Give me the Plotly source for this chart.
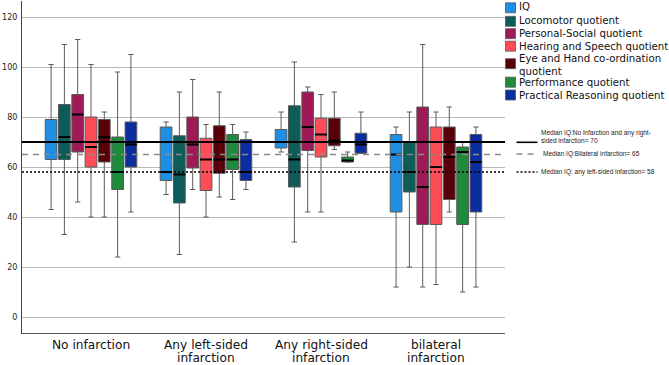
import plotly.graph_objects as go

# ---------------- data ----------------
categories = ["No infarction", "Any left-sided infarction",
              "Any right-sided infarction", "bilateral infarction"]
category_lines = [["No infarction"], ["Any left-sided", "infarction"],
                  ["Any right-sided", "infarction"], ["bilateral", "infarction"]]

series_names = ["IQ", "Locomotor quotient", "Personal-Social quotient",
                "Hearing and Speech quotient", "Eye and Hand co-ordination quotient",
                "Performance quotient", "Practical Reasoning quotient"]
legend_labels = ["IQ", "Locomotor quotient", "Personal-Social quotient",
                 "Hearing and Speech quotient", "Eye and Hand co-ordination<br>quotient",
                 "Performance quotient", "Practical Reasoning quotient"]
colors = ["#1f8fe6", "#0d5c59", "#9e1a57", "#ff4d57", "#570009", "#1d8a3c", "#0a2ea0"]

# per series, per category (No, left, right, bilateral)
lower_whisker = [[43, 49, 66, 12], [33, 25, 30, 20], [46, 51, 42, 12], [40, 40, 42, 13],
                 [40, 48, 67, 42], [24, 47, 62, 10], [42, 51, 65.5, 12]]
q1_values = [[63, 54.6, 67.6, 42], [63, 45.6, 52, 50], [66, 59.6, 66.6, 37], [60, 50.6, 64, 37],
             [62, 57.5, 68.5, 47], [51, 59, 62, 37], [60, 54.6, 65.5, 42]]
medians = [[70, 58, 70, 65], [72, 57, 63, 58], [81, 69, 76, 52], [68, 63, 73, 60],
           [72, 63, 70.5, 64], [58, 63, 62.6, 66], [69, 58, 69, 62]]
q3_values = [[79, 76, 75, 73], [85, 72.5, 84.5, 70], [89, 80, 90, 84], [80, 71.5, 79.5, 76],
             [79, 76.5, 79.5, 76], [72, 73, 64, 68], [78, 71, 73.5, 73]]
upper_whisker = [[101, 78, 82, 76], [109, 90, 102, 82], [111, 95, 92, 109], [101, 77, 89, 82],
                 [82, 90, 90, 84], [98, 77, 66, 70], [105, 74, 82, 76]]

ref_values = [70, 65, 58]
ref_labels = ["Median IQ:No infarction and any right-<br>sided infarction= 70",
              "Median IQ:Bilateral infarction= 65",
              "Median IQ: any left-sided infarction= 58"]
ref_styles = [dict(color="#000000", width=2, dash="solid"),
              dict(color="#8a8a8a", width=1.6, dash="6px,5px"),
              dict(color="#000000", width=1.3, dash="2px,2px")]

y_ticks = [0, 20, 40, 60, 80, 100, 120]

# ---------------- layout geometry (pixels) ----------------
W, H = 669, 365
L, R, T, B = 22, 505, 1, 333


def px(xp):
    return (xp - L) / (R - L)


def py(yp):
    return (B - yp) / (B - T)


fig = go.Figure()
for i, name in enumerate(series_names):
    fig.add_trace(go.Box(
        name=name,
        x=categories,
        q1=q1_values[i], median=medians[i], q3=q3_values[i],
        lowerfence=lower_whisker[i], upperfence=upper_whisker[i],
        fillcolor=colors[i],
        line=dict(color="#5a5a5a", width=1),
        whiskerwidth=0.45,
        boxpoints=False,
        showlegend=False,
        hoverinfo="skip",
        offsetgroup=str(i), alignmentgroup="g",
    ))
# black median bars drawn on top of each box
for i, name in enumerate(series_names):
    fig.add_trace(go.Box(
        name=name + " median",
        x=categories,
        q1=medians[i], median=medians[i], q3=medians[i],
        lowerfence=medians[i], upperfence=medians[i],
        fillcolor="#000000",
        line=dict(color="#000000", width=2),
        whiskerwidth=0,
        boxpoints=False,
        showlegend=False,
        hoverinfo="skip",
        offsetgroup=str(i), alignmentgroup="g",
    ))

shapes = []
annotations = []

# reference lines over the plot
for v, st in zip(ref_values, ref_styles):
    shapes.append(dict(type="line", xref="paper", yref="y", x0=0, x1=1, y0=v, y1=v,
                       line=st, layer="above"))

# category labels
for c, lines in zip(categories, category_lines):
    for j, t in enumerate(lines):
        annotations.append(dict(x=c, xref="x", y=0, yref="paper", text=t, showarrow=False,
                                xanchor="center", yanchor="middle", yshift=-12.0 - 12.8 * j,
                                font=dict(family="DejaVu Sans", size=12.2, color="#111111")))

# custom legend
sq_centers = [7.8, 21.3, 33.7, 46.2, 63.7, 82.2, 95.0]
txt_centers = [6.9, 21.0, 33.4, 46.0, 64.5, 82.7, 95.7]
for i in range(len(series_names)):
    c = sq_centers[i]
    shapes.append(dict(type="rect", xref="paper", yref="paper",
                       x0=px(505.5), x1=px(515.5), y0=py(c + 5), y1=py(c - 5),
                       fillcolor=colors[i], line=dict(color="#555555", width=0.8)))
    annotations.append(dict(x=px(517.0), y=py(txt_centers[i]), xref="paper", yref="paper",
                            text=legend_labels[i], showarrow=False, xanchor="left",
                            yanchor="middle", align="left",
                            font=dict(family="DejaVu Sans", size=10.2, color="#111111")))

# reference line legend
sample_y = [142.3, 154.0, 172.0]
text_pos = [(539, 136.4), (541, 154.0), (539, 171.8)]
for st, sy, lab, (xx, yy) in zip(ref_styles, sample_y, ref_labels, text_pos):
    st2 = dict(st)
    st2["width"] = min(st["width"], 1.6)
    shapes.append(dict(type="line", xref="paper", yref="paper", x0=px(516.5), x1=px(537.5),
                       y0=py(sy), y1=py(sy), line=st2))
    annotations.append(dict(x=px(xx), y=py(yy), xref="paper", yref="paper", text=lab,
                            showarrow=False, xanchor="left", yanchor="middle", align="left",
                            font=dict(family="Liberation Sans", size=6.5, color="#222222")))

fig.update_layout(
    width=W, height=H,
    margin=dict(l=L, r=W - R, t=T, b=H - B, pad=0, autoexpand=False),
    paper_bgcolor="white", plot_bgcolor="white",
    boxmode="group", boxgap=0.19, boxgroupgap=0.12,
    showlegend=False,
    shapes=shapes, annotations=annotations,
    xaxis=dict(type="category", categoryorder="array", categoryarray=categories,
               range=[-0.6, 3.6], showticklabels=False, showgrid=False, zeroline=False,
               showline=True, linecolor="#555555", linewidth=1, ticks="", automargin=False),
    yaxis=dict(range=[-6.4, 126.4], tickvals=y_ticks, ticktext=[str(v) for v in y_ticks],
               showgrid=True, gridcolor="#b8b8b8", gridwidth=1, zeroline=False,
               showline=True, linecolor="#444444", linewidth=1, ticks="",
               ticklabelstandoff=2, automargin=False,
               tickfont=dict(family="DejaVu Sans", size=8, color="#222222")),
)

fig.write_html("out.html", config={"displayModeBar": False},
               post_script="document.body.style.margin='0';document.body.style.padding='0';")
